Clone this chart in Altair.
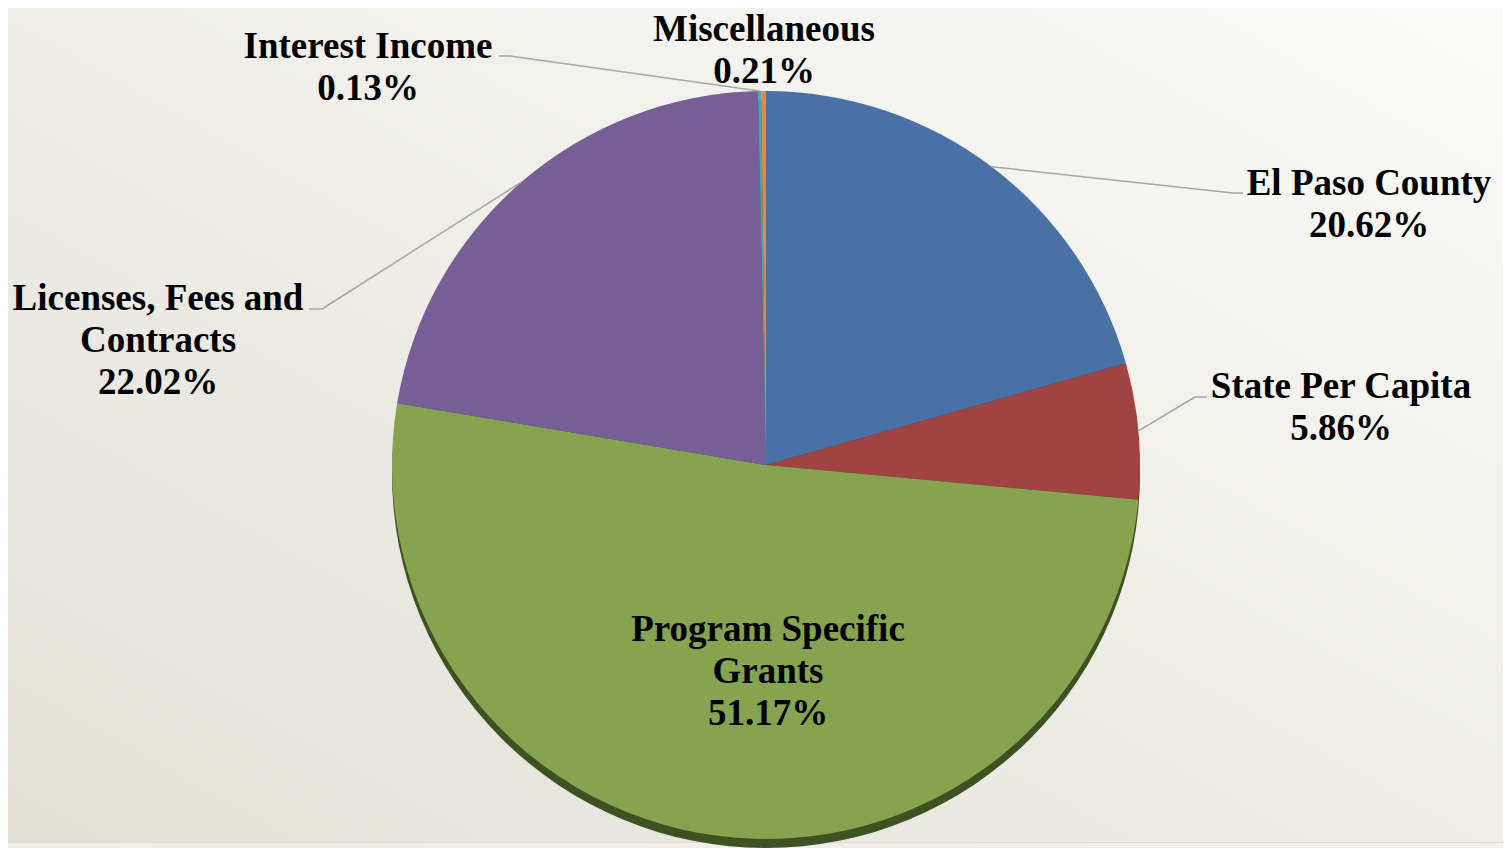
import math
import altair as alt
import pandas as pd

# ---- data ----
categories = ["El Paso County", "State Per Capita", "Program Specific Grants",
              "Licenses, Fees and Contracts", "Interest Income", "Miscellaneous"]
shares = [20.62, 5.86, 51.17, 22.02, 0.13, 0.21]
label_lines = ["El Paso County", "State Per Capita", "Program Specific\nGrants",
               "Licenses, Fees and\nContracts", "Interest Income", "Miscellaneous"]

# ---- style / layout ----
colors = ["#4A71A5", "#A14343", "#86A350", "#775E96", "#4BA3BA", "#E5893E"]
W, H = 1495, 834
CX, CY, R = 758, 457, 374
# label first-line centres (chart px)
label_x = [1361, 1333, 760, 150, 360, 756]
label_y = [176, 379, 622, 291, 39, 22]
# leader elbow + end points (None = no leader)
elbow = [(1225, 185), (1187, 389), None, (314, 301), (502, 48), None]
lend = [(1235, 185), (1199, 389), None, (301, 301), (491, 48), None]

total = sum(shares)
cum = 0
rows, lab_rows, seg_rows = [], [], []
for i, (c, v) in enumerate(zip(categories, shares)):
    mid = (cum + v / 2) / total * 2 * math.pi
    cum += v
    rows.append({"category": c, "value": v, "idx": i})
    lab_rows.append({"text": f"{label_lines[i]}\n{v:.2f}%", "x": label_x[i], "y": label_y[i]})
    if elbow[i] is not None:
        ax = CX + R * math.sin(mid)
        ay = CY - R * math.cos(mid)
        seg_rows.append({"x": ax, "y": ay, "x2": elbow[i][0], "y2": elbow[i][1]})
        seg_rows.append({"x": elbow[i][0], "y": elbow[i][1], "x2": lend[i][0], "y2": lend[i][1]})

df = pd.DataFrame(rows)
labels = pd.DataFrame(lab_rows)
segs = pd.DataFrame(seg_rows)
one = pd.DataFrame({"k": [0]})

bg = alt.Chart(one).mark_rect(
    fill={"gradient": "linear", "x1": 1, "y1": 0, "x2": 0, "y2": 1,
          "stops": [{"offset": 0, "color": "#FAFAF8"}, {"offset": 1, "color": "#E2E0D7"}]}
).encode(x=alt.value(0), x2=alt.value(W), y=alt.value(0), y2=alt.value(H))

shadow = alt.Chart(one).mark_arc(
    theta=0, theta2=2 * math.pi, outerRadius=R, color="#3E5122"
).encode(x=alt.value(CX), y=alt.value(CY + 9))

pie = alt.Chart(df).mark_arc(outerRadius=R).encode(
    theta=alt.Theta("value:Q", stack=True),
    color=alt.Color("category:N", scale=alt.Scale(domain=categories, range=colors), legend=None),
    order=alt.Order("idx:Q"),
    x=alt.value(CX), y=alt.value(CY),
)

leaders = alt.Chart(segs).mark_rule(color="#A6A6A6", strokeWidth=1.5).encode(
    x=alt.X("x:Q", scale=None), y=alt.Y("y:Q", scale=None),
    x2="x2:Q", y2="y2:Q",
)

text = alt.Chart(labels).mark_text(
    font="Liberation Serif", fontWeight="bold", fontSize=37, lineHeight=42,
    lineBreak="\n", align="center", baseline="middle", color="#000000"
).encode(x=alt.X("x:Q", scale=None), y=alt.Y("y:Q", scale=None), text="text:N")

chart = alt.layer(bg, shadow, pie, leaders, text).properties(
    width=W, height=H, padding=0
).configure_view(stroke=None).configure(background="#F0EFEA")

chart.save("out.html", embed_options={"renderer": "svg", "actions": False})
